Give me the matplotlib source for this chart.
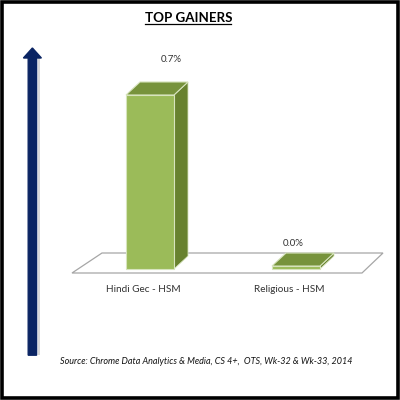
import matplotlib
matplotlib.use("Agg")
import matplotlib.pyplot as plt
from matplotlib.patches import Polygon, Rectangle, FancyArrow

plt.rcParams['font.family'] = ['Lato', 'DejaVu Sans']

# Data
categories = ['Hindi Gec - HSM', 'Religious - HSM']
values = [0.7, 0.012]
value_labels = ['0.7%', '0.0%']
title = 'TOP GAINERS'
source = 'Source: Chrome Data Analytics & Media, CS 4+,  OTS, Wk-32 & Wk-33, 2014'

# colours
front_col = '#9BBB59'
top_col = '#77933C'
side_col = '#68822F'
edge_col = '#D7E4BD'
navy = '#0A2463'

fig = plt.figure(figsize=(4, 4), dpi=100)
ax = fig.add_axes([0, 0, 1, 1])

# axis scale: 146 px per category, ~249 px per percent point
px_x = 146.0
px_y = 248.6
ax.set_xlim(-150 / px_x, 250 / px_x)
ax.set_ylim(-131 / px_y, 269 / px_y)
ax.axis('off')

half_w = 24 / px_x
dx = 14 / px_x
dy = 13 / px_y

# floor plane
floor = Polygon([(-78 / px_x, -4 / px_y), (212 / px_x, -4 / px_y),
                 (233 / px_x, 16 / px_y), (-48 / px_x, 16 / px_y)],
                closed=True, facecolor='white', edgecolor='#A6A6A6', lw=0.9, zorder=1)
ax.add_patch(floor)

for i, v in enumerate(values):
    x0 = i - half_w
    x1 = i + half_w
    front = Polygon([(x0, 0), (x1, 0), (x1, v), (x0, v)], closed=True,
                    facecolor=front_col, edgecolor=edge_col, lw=0.8, zorder=3)
    side = Polygon([(x1, 0), (x1 + dx, dy), (x1 + dx, v + dy), (x1, v)], closed=True,
                   facecolor=side_col, edgecolor=edge_col, lw=0.6, zorder=2)
    top = Polygon([(x0, v), (x1, v), (x1 + dx, v + dy), (x0 + dx, v + dy)], closed=True,
                  facecolor=top_col, edgecolor=edge_col, lw=0.8, zorder=3)
    for p in (side, front, top):
        ax.add_patch(p)

label_shift = [(21, 22), (-3, 10)]
for i, v in enumerate(values):
    sx, sy = label_shift[i]
    ax.text(i + sx / px_x, v + dy + sy / px_y, value_labels[i], ha='center', va='center',
            fontsize=7, color='#333333', zorder=5)
    ax.text(i - 7 / px_x, -21 / px_y, categories[i], ha='center', va='center',
            fontsize=7.2, color='#333333', zorder=5)

# title, underlined
fig.text(0.471, 0.955, title, ha='center', va='center', fontsize=9.6,
         fontweight='bold', color='black')
fig.add_artist(plt.Line2D([0.363, 0.578], [0.939, 0.939], color='black', lw=0.9))

# source
fig.text(0.515, 0.095, source, ha='center', va='center', fontsize=6.5,
         style='italic', color='#111111')

# navy arrow with soft shadow
fig.add_artist(Rectangle((0.094, 0.112), 0.006, 0.745, transform=fig.transFigure,
                         facecolor='#C8C8C8', edgecolor='none', alpha=0.7))
fig.add_artist(FancyArrow(0.081, 0.112, 0, 0.768, width=0.021, head_width=0.045,
                          head_length=0.025, length_includes_head=True,
                          transform=fig.transFigure, facecolor=navy, edgecolor=navy))

# outer black frame
fig.add_artist(Rectangle((0.004, 0.006), 0.99, 0.99, transform=fig.transFigure,
                         facecolor='none', edgecolor='black', lw=2.6))

fig.savefig('out.png', dpi=100)
